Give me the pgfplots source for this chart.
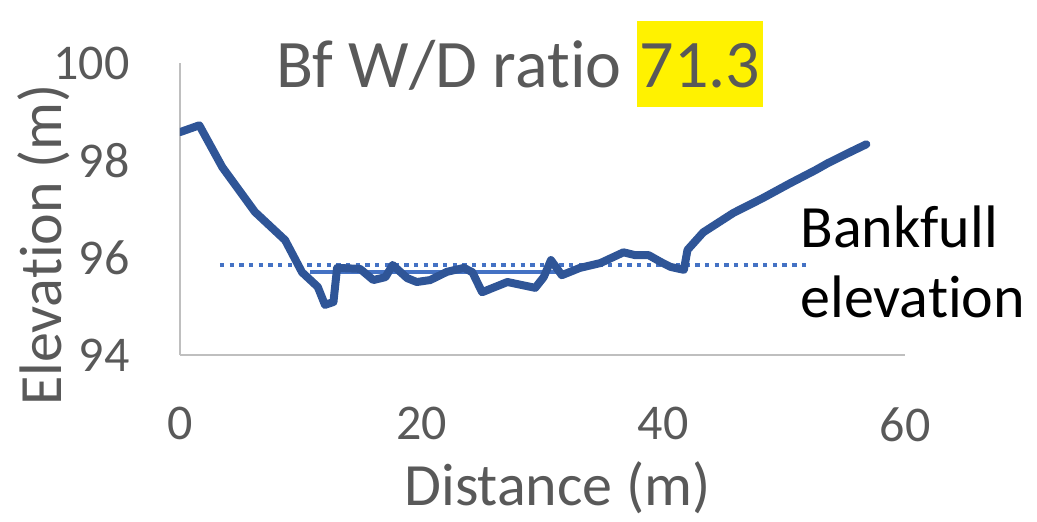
\documentclass[border=0pt]{standalone}
\usepackage{pgfplots}
\pgfplotsset{compat=1.18}
\usepackage{fontspec}
\setmainfont{Carlito}[Ligatures={NoCommon,NoRare,NoContextual}, Contextuals={NoAlternate}]
\definecolor{txtgray}{HTML}{595959}
\definecolor{axgray}{HTML}{BFBFBF}
\definecolor{mainblue}{HTML}{2F5597}
\definecolor{lightblue}{HTML}{4472C4}
\begin{document}
\begin{tikzpicture}
\useasboundingbox (-90pt,-83pt) rectangle (428.5pt,177.5pt);
\begin{axis}[
  scale only axis,
  width=362.5pt, height=146pt,
  xmin=0, xmax=60, ymin=94, ymax=100,
  xtick={0,20,40,60}, ytick={94,96,98,100},
  axis x line=bottom, axis y line=left,
  axis line style={-, draw=axgray, line width=1pt},
  major tick length=0pt,
  tick style={draw=none},
  /pgf/number format/assume math mode=true,
  tick label style={font=\fontsize{25pt}{30pt}\selectfont, text=txtgray, inner sep=0pt},
  xticklabel style={anchor=north, yshift=-26pt},
  yticklabel style={anchor=east, xshift=-25pt},
]
\addplot[lightblue, line width=2.2pt, dash pattern=on 2.2pt off 2.65pt] coordinates {(3.3,95.85) (51.8,95.85)};
\addplot[lightblue, line width=2.2pt] coordinates {(10.8,95.70) (32.1,95.70)};
\addplot[mainblue, line width=4pt, line join=round, line cap=round] coordinates {
(0,98.58) (1.6,98.72) (3.5,97.86) (6.2,96.94) (8.7,96.36) (10.1,95.70)
(11.4,95.40) (12.0,95.03) (12.7,95.09) (13.0,95.79) (14.9,95.77) (16.0,95.54)
(17.0,95.60) (17.6,95.85) (18.8,95.58) (19.6,95.50) (20.7,95.54) (22.1,95.71)
(23.5,95.79) (24.2,95.70) (25.0,95.29) (27.1,95.50) (29.4,95.38) (30.1,95.60)
(30.7,95.95) (31.6,95.64) (33.1,95.79) (34.8,95.89) (36.7,96.11) (37.7,96.05)
(38.8,96.05) (39.8,95.91) (40.6,95.81) (41.7,95.75) (42.0,96.16) (43.3,96.52)
(45.8,96.92) (48.2,97.22) (50.5,97.53) (52.6,97.80) (53.6,97.94) (55.3,98.15)
(56.8,98.33)};
\end{axis}
% title
\node[anchor=base, text=txtgray, inner sep=0pt, font=\fontsize{34pt}{40pt}\selectfont] at (170pt,134pt)
  {Bf W/D ratio {\setlength\fboxsep{0pt}\colorbox{yellow}{\rule[-0.29em]{0pt}{1.26em}\hspace{1.5pt}71.3\hspace{1.5pt}}}};
% axis labels
\node[anchor=base, text=txtgray, inner sep=0pt, font=\fontsize{30pt}{36pt}\selectfont] at (188.75pt,-75pt) {Distance (m)};
\node[anchor=base, rotate=90, text=txtgray, inner sep=0pt, font=\fontsize{30pt}{36pt}\selectfont] at (-59pt,55pt) {Elevation (m)};
% annotation
\node[anchor=base west, text=black, inner sep=0pt, font=\fontsize{30pt}{36pt}\selectfont] at (310pt,54pt) {Bankfull};
\node[anchor=base west, text=black, inner sep=0pt, font=\fontsize{30pt}{36pt}\selectfont] at (310pt,19pt) {elevation};
\end{tikzpicture}
\end{document}
